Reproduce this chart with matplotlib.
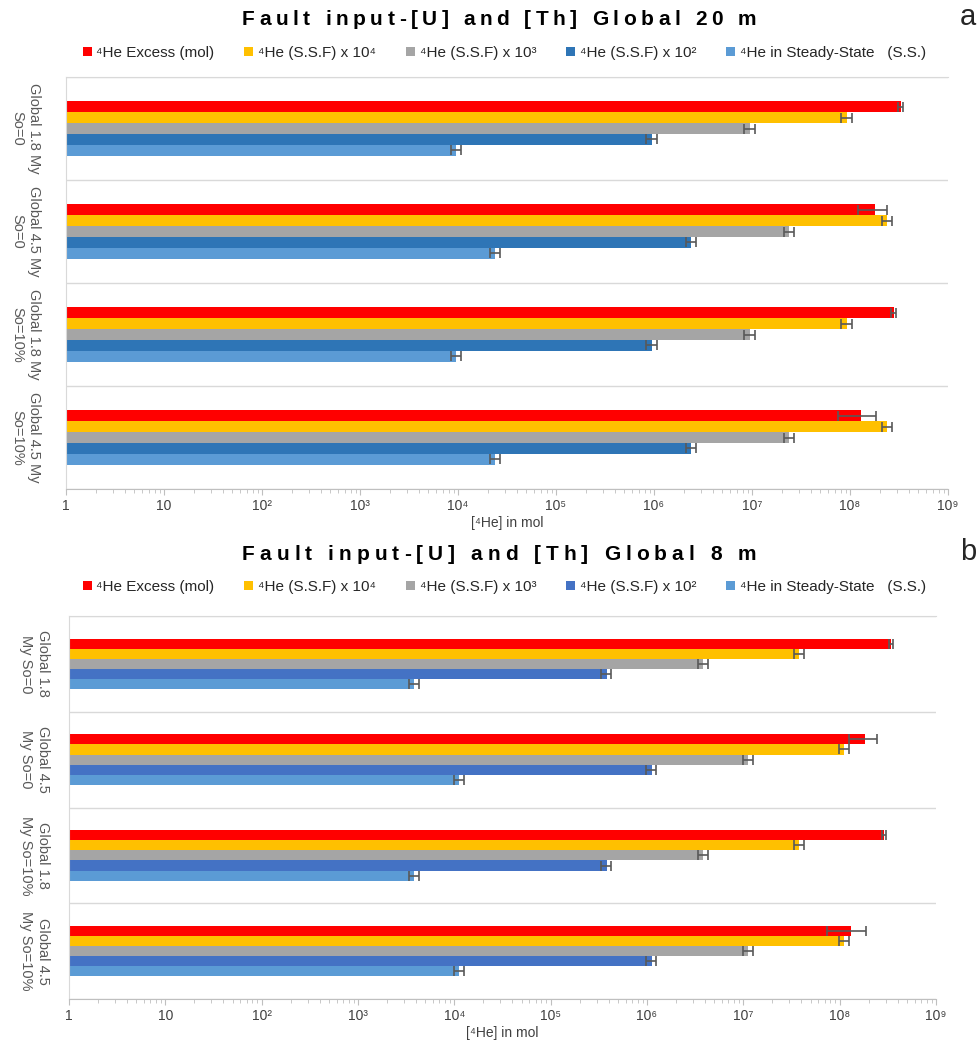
import matplotlib
matplotlib.use('Agg')
import matplotlib.pyplot as plt
import numpy as np
from matplotlib.patches import Patch
from matplotlib.ticker import FixedLocator, LogLocator, NullFormatter

plt.rcParams['font.family'] = ['Liberation Sans', 'DejaVu Sans']

# series (same order in both panels, top bar first)
series_names = ['⁴He Excess (mol)', '⁴He (S.S.F) x 10⁴', '⁴He (S.S.F) x 10³',
                '⁴He (S.S.F) x 10²', '⁴He in Steady-State   (S.S.)']
colors_a = ['#FF0000', '#FFC000', '#A5A5A5', '#2E75B6', '#5B9BD5']
colors_b = ['#FF0000', '#FFC000', '#A5A5A5', '#4472C4', '#5B9BD5']

xtick_labels = ['1', '10', '10²', '10³', '10⁴', '10⁵', '10⁶', '10⁷', '10⁸', '10⁹']

# panel a: Global 20 m
cats_a = ['Global 1.8 My\nSo=0', 'Global 4.5 My\nSo=0',
          'Global 1.8 My\nSo=10%', 'Global 4.5 My\nSo=10%']
excess_a = [3.3e8, 1.8e8, 2.8e8, 1.3e8]
excess_err_a = [2.0e7, 6.0e7, 1.5e7, 5.5e7]
ssf4_a = [9.3e7, 2.4e8, 9.3e7, 2.4e8]
ssf3_a = [9.5e6, 2.4e7, 9.5e6, 2.4e7]
ssf2_a = [9.5e5, 2.4e6, 9.5e5, 2.4e6]
ss_a = [9.6e3, 2.4e4, 9.6e3, 2.4e4]

# panel b: Global 8 m
cats_b = ['Global 1.8\nMy So=0', 'Global 4.5\nMy So=0',
          'Global 1.8\nMy So=10%', 'Global 4.5\nMy So=10%']
excess_b = [3.4e8, 1.85e8, 2.9e8, 1.3e8]
excess_err_b = [1.5e7, 6.0e7, 1.5e7, 5.7e7]
ssf4_b = [3.8e7, 1.12e8, 3.8e7, 1.12e8]
ssf3_b = [3.8e6, 1.12e7, 3.8e6, 1.12e7]
ssf2_b = [3.8e5, 1.12e6, 3.8e5, 1.12e6]
ss_b = [3.8e3, 1.12e4, 3.8e3, 1.12e4]

rel_err = 0.12  # relative error on the S.S.F / S.S. series

W, H = 979, 1046
fig = plt.figure(figsize=(W / 100, H / 100), dpi=100)
renderer = fig.canvas.get_renderer()


def px_rect(left, top, right, bottom):
    return [left / W, 1 - bottom / H, (right - left) / W, (bottom - top) / H]


def text_width(s, **kw):
    t = fig.text(0, 0, s, **kw)
    w = t.get_window_extent(renderer).width
    t.remove()
    return w


def spaced_title(s, x_left, x_right, y, **kw):
    # letter-spaced title: place each character by hand
    bar = text_width('|', **kw)
    pos = [text_width(s[:i] + '|', **kw) - bar if i else 0 for i in range(len(s))]
    natural = text_width(s, **kw)
    track = ((x_right - x_left) - natural) / (len(s) - 1)
    for i, ch in enumerate(s):
        if ch == ' ':
            continue
        fig.text((x_left + pos[i] + i * track) / W, 1 - y / H, ch,
                 ha='left', va='baseline', **kw)


def draw_panel(rect, cats, series, errs, colors, title, letter, title_y, legend_y, label_pad):
    ax = fig.add_axes(rect)
    ax.set_xscale('log')
    n = len(series)
    h = 0.106
    y = np.arange(len(cats))
    for i, (vals, err, c) in enumerate(zip(series, errs, colors)):
        vals = np.array(vals)
        ypos = y + (i - (n - 1) / 2) * h
        ax.barh(ypos, vals - 1, left=1, height=h, color=c, zorder=2)
        ax.errorbar(vals, ypos, xerr=err, fmt='none', ecolor='#595959',
                    elinewidth=1.2, capsize=3.5, capthick=1.2, zorder=3)
    ax.set_xlim(1, 1e9)
    ax.set_ylim(len(cats) - 0.5, -0.5)
    ax.set_yticks(y)
    ax.set_yticklabels(cats, rotation=-90, va='center', ha='right',
                       multialignment='center', fontsize=10.5, color='#595959')
    ax.yaxis.set_minor_locator(FixedLocator(np.arange(-0.5, len(cats), 1.0)))
    ax.tick_params(axis='y', which='both', length=0, pad=label_pad)
    ax.grid(axis='y', which='minor', color='#D9D9D9', lw=1, zorder=0)
    ax.xaxis.set_major_locator(FixedLocator(10.0 ** np.arange(10)))
    ax.set_xticklabels(xtick_labels, fontsize=10, color='#404040')
    ax.xaxis.set_minor_locator(LogLocator(base=10, subs=np.arange(2, 10), numticks=20))
    ax.xaxis.set_minor_formatter(NullFormatter())
    ax.tick_params(axis='x', which='major', length=4, color='#BFBFBF', pad=3)
    ax.tick_params(axis='x', which='minor', length=3, color='#BFBFBF')
    ax.set_xlabel('[⁴He] in mol', fontsize=10, color='#404040', labelpad=2)
    ax.spines['right'].set_visible(False)
    ax.spines['top'].set_color('#D9D9D9')
    ax.spines['left'].set_color('#D9D9D9')
    ax.spines['bottom'].set_color('#BFBFBF')

    spaced_title(title, 242, 756, title_y + 7, fontsize=15, fontweight='bold', color='black')
    fig.text(968 / W, 1 - (title_y + 7) / H, letter, ha='center', va='baseline',
             fontsize=21, color='#262626')
    handles = [Patch(facecolor=c, edgecolor='none') for c in colors]
    fig.legend(handles, series_names, loc='center', ncol=5,
               bbox_to_anchor=(0.515, 1 - legend_y / H), frameon=False,
               fontsize=11, handlelength=0.6, handleheight=0.6,
               handletextpad=0.3, columnspacing=1.95, labelcolor='#262626')
    return ax


draw_panel(px_rect(66, 77, 948, 489), cats_a,
           [excess_a, ssf4_a, ssf3_a, ssf2_a, ss_a],
           [excess_err_a] + [np.array(v) * rel_err for v in [ssf4_a, ssf3_a, ssf2_a, ss_a]],
           colors_a, 'Fault input-[U] and [Th] Global 20 m', 'a', 18, 53, 18)

draw_panel(px_rect(69, 616, 936, 999), cats_b,
           [excess_b, ssf4_b, ssf3_b, ssf2_b, ss_b],
           [excess_err_b] + [np.array(v) * rel_err for v in [ssf4_b, ssf3_b, ssf2_b, ss_b]],
           colors_b, 'Fault input-[U] and [Th] Global 8 m', 'b', 553, 587, 14)

fig.savefig('out.png', dpi=100)
